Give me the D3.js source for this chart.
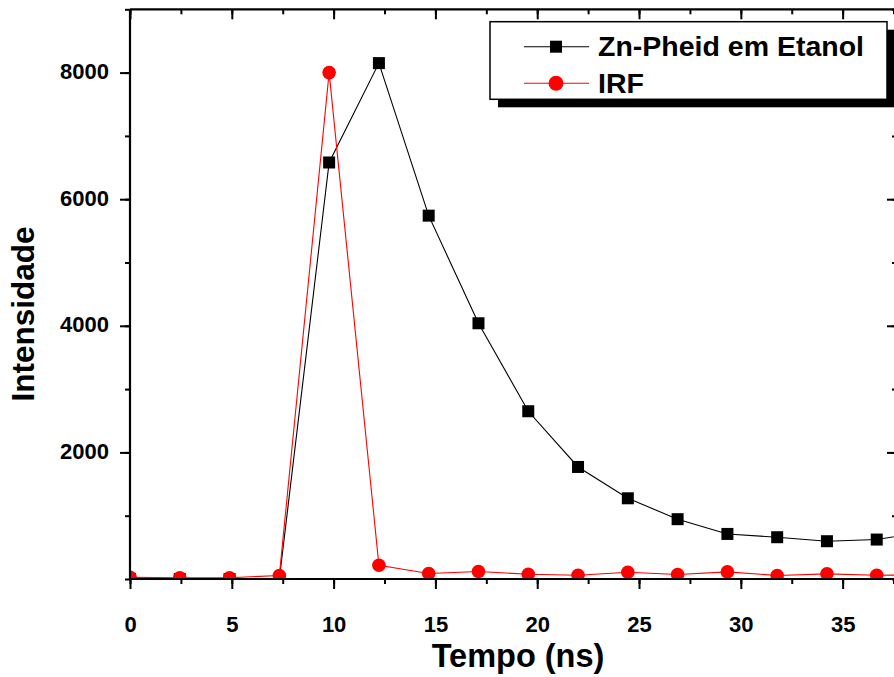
<!DOCTYPE html>
<html>
<head>
<meta charset="utf-8">
<script src="https://cdn.jsdelivr.net/npm/d3@7"></script>
<style>
  html, body { margin: 0; padding: 0; background: #fff; }
  svg { display: block; font-family: "Liberation Sans", Arial, sans-serif; }
</style>
</head>
<body>
<svg id="chart" width="894" height="677"></svg>
<script>
// Time channels (ns) and measured intensities
const tempo = [0, 2.445, 4.89, 7.335, 9.78, 12.225, 14.67, 17.115, 19.56, 22.005,
               24.45, 26.895, 29.34, 31.785, 34.23, 36.675, 39.12];
const znPheid = [0, 0, 0, 0, 6580, 8150, 5740, 4040, 2650, 1770,
                 1275, 945, 712, 660, 597, 623, 750];
const irf = [25, 20, 20, 55, 8000, 218, 87, 118, 76, 60,
             107, 71, 112, 55, 81, 60, 65];
const xTicks = [0, 5, 10, 15, 20, 25, 30, 35];
const yTicks = [2000, 4000, 6000, 8000];
const seriesNames = ["Zn-Pheid em Etanol", "IRF"];

const svg = d3.select("#chart");
const plotLeft = 130, plotRight = 897, plotTop = 9.3, plotBottom = 579;

const x = d3.scaleLinear().domain([0, 37.67]).range([plotLeft, plotRight]);
const y = d3.scaleLinear().domain([0, 9000]).range([plotBottom, plotTop]);

// clip marks to the plot frame
svg.append("defs").append("clipPath").attr("id", "plotClip")
  .append("rect").attr("x", plotLeft).attr("y", plotTop)
  .attr("width", plotRight - plotLeft).attr("height", plotBottom - plotTop);

const plot = svg.append("g").attr("clip-path", "url(#plotClip)");

const line = d3.line().x((d, i) => x(tempo[i])).y(d => y(d));

// Zn-Pheid decay: black line with square markers
plot.append("path").datum(znPheid)
  .attr("d", line).attr("fill", "none")
  .attr("stroke", "#000").attr("stroke-width", 1.1);
plot.selectAll("rect.sq").data(znPheid).enter().append("rect")
  .attr("class", "sq")
  .attr("x", (d, i) => x(tempo[i]) - 6)
  .attr("y", d => y(d) - 6)
  .attr("width", 12).attr("height", 12)
  .attr("fill", "#000");

// IRF: red line with circle markers
plot.append("path").datum(irf)
  .attr("d", line).attr("fill", "none")
  .attr("stroke", "#ff0000").attr("stroke-width", 1.1);
plot.selectAll("circle.irf").data(irf).enter().append("circle")
  .attr("class", "irf")
  .attr("cx", (d, i) => x(tempo[i]))
  .attr("cy", d => y(d))
  .attr("r", 6.8)
  .attr("fill", "#ff0000");

// Axes: outward ticks on bottom/left, inward on top/right
const xMinor = d3.range(0, 37.7, 2.5);
const yMinor = d3.range(0, 9001, 1000);

function styleAxis(g) {
  g.select(".domain").remove();
  g.selectAll(".tick line").attr("stroke", "#000").attr("stroke-width", 2);
  g.selectAll(".tick text").attr("fill", "#000")
    .attr("font-weight", "bold").attr("font-size", 22);
}

// minor ticks
svg.append("g").attr("transform", `translate(0,${plotBottom})`)
  .call(d3.axisBottom(x).tickValues(xMinor).tickSize(5).tickFormat(""))
  .call(styleAxis);
svg.append("g").attr("transform", `translate(0,${plotTop})`)
  .call(d3.axisBottom(x).tickValues(xMinor).tickSize(5).tickFormat(""))
  .call(styleAxis);
svg.append("g").attr("transform", `translate(${plotLeft},0)`)
  .call(d3.axisLeft(y).tickValues(yMinor).tickSize(5).tickFormat(""))
  .call(styleAxis);
svg.append("g").attr("transform", `translate(${plotRight},0)`)
  .call(d3.axisLeft(y).tickValues(yMinor).tickSize(5).tickFormat(""))
  .call(styleAxis);

// major ticks with labels
svg.append("g").attr("transform", `translate(0,${plotBottom})`)
  .call(d3.axisBottom(x).tickValues(xTicks).tickSize(10).tickPadding(27).tickFormat(d3.format("d")))
  .call(styleAxis);
svg.append("g").attr("transform", `translate(0,${plotTop})`)
  .call(d3.axisBottom(x).tickValues(xTicks).tickSize(10).tickFormat(""))
  .call(styleAxis);
svg.append("g").attr("transform", `translate(${plotLeft},0)`)
  .call(d3.axisLeft(y).tickValues(yTicks).tickSize(10).tickPadding(11).tickFormat(d3.format("d")))
  .call(styleAxis)
  .selectAll(".tick text").attr("dy", "0.28em");
svg.append("g").attr("transform", `translate(${plotRight},0)`)
  .call(d3.axisLeft(y).tickValues(yTicks).tickSize(10).tickFormat(""))
  .call(styleAxis);

// frame lines
const frame = svg.append("g").attr("stroke", "#000").attr("stroke-width", 2.2);
frame.append("line").attr("x1", plotLeft).attr("x2", plotRight).attr("y1", plotBottom).attr("y2", plotBottom);
frame.append("line").attr("x1", plotLeft).attr("x2", plotRight).attr("y1", plotTop).attr("y2", plotTop);
frame.append("line").attr("x1", plotLeft).attr("x2", plotLeft).attr("y1", plotTop).attr("y2", plotBottom);
frame.append("line").attr("x1", plotRight).attr("x2", plotRight).attr("y1", plotTop).attr("y2", plotBottom);

// axis titles
svg.append("text").text("Tempo (ns)")
  .attr("x", 518).attr("y", 667)
  .attr("text-anchor", "middle")
  .attr("font-weight", "bold").attr("font-size", 32.5).attr("fill", "#000");
svg.append("text").text("Intensidade")
  .attr("transform", "translate(34,314) rotate(-90)")
  .attr("text-anchor", "middle")
  .attr("font-weight", "bold").attr("font-size", 31.5).attr("fill", "#000");

// legend with drop shadow
const lg = svg.append("g");
const lx = 490, ly = 21.7, lw = 397, lh = 77.6;
lg.append("rect").attr("x", lx + 8).attr("y", ly + 8).attr("width", lw).attr("height", lh).attr("fill", "#000");
lg.append("rect").attr("x", lx).attr("y", ly).attr("width", lw).attr("height", lh)
  .attr("fill", "#fff").attr("stroke", "#000").attr("stroke-width", 1.5);

const rows = [
  { name: seriesNames[0], color: "#000", shape: "square", yc: 46.7 },
  { name: seriesNames[1], color: "#ff0000", shape: "circle", yc: 83.3 }
];
rows.forEach(r => {
  lg.append("line").attr("x1", 524).attr("x2", 589).attr("y1", r.yc).attr("y2", r.yc)
    .attr("stroke", r.color).attr("stroke-width", 1.1);
  if (r.shape === "square") {
    lg.append("rect").attr("x", 556 - 6).attr("y", r.yc - 6).attr("width", 12).attr("height", 12).attr("fill", r.color);
  } else {
    lg.append("circle").attr("cx", 556).attr("cy", r.yc).attr("r", 7.5).attr("fill", r.color);
  }
  lg.append("text").text(r.name)
    .attr("x", 598).attr("y", r.yc + 9.5)
    .attr("font-weight", "bold").attr("font-size", 28.5).attr("fill", "#000");
});
</script>
</body>
</html>
